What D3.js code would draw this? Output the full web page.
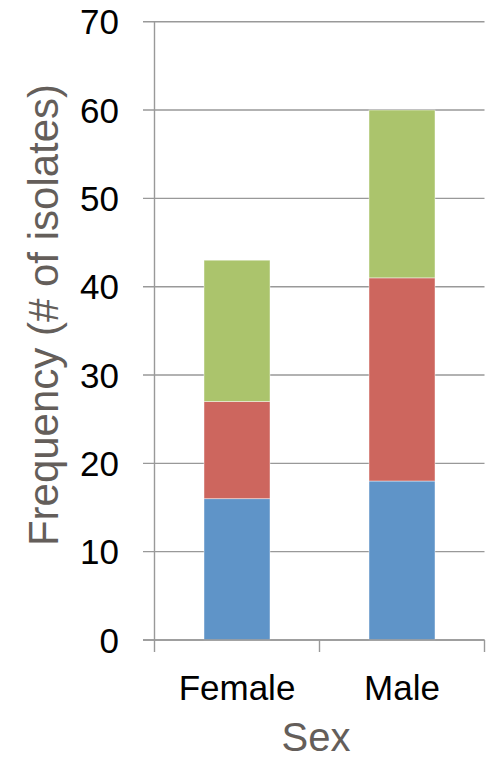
<!DOCTYPE html>
<html>
<head>
<meta charset="utf-8">
<script src="https://cdn.jsdelivr.net/npm/d3@7"></script>
<style>
  html, body { margin: 0; padding: 0; background: #fff; }
  svg { display: block; font-family: "Liberation Sans", Arial, sans-serif; }
</style>
</head>
<body>
<svg id="chart" width="487" height="760"></svg>
<script>
// Isolate counts by sex, stacked in three groups (bottom to top)
const categories = ["Female", "Male"];
const groupBlue  = [16, 18];
const groupRed   = [11, 23];
const groupGreen = [16, 19];
const yTicks = [0, 10, 20, 30, 40, 50, 60, 70];

const seriesKeys = ["blue", "red", "green"];
const seriesColors = { blue: "#5f94c8", red: "#cd665e", green: "#abc46c" };

const rows = categories.map((c, i) => ({
  category: c,
  blue: groupBlue[i],
  red: groupRed[i],
  green: groupGreen[i]
}));

const svg = d3.select("#chart");
const plotTop = 21.7;
const plotBottom = 640;

const x = d3.scaleBand()
  .domain(categories)
  .range([154.5, 484.5])
  .paddingInner(0.6)
  .paddingOuter(0.3);

const y = d3.scaleLinear()
  .domain([0, 70])
  .range([plotBottom, plotTop]);

const gridColor = "#999999";

// Horizontal gridlines with short ticks left of the axis
svg.append("g")
  .selectAll("line")
  .data(yTicks)
  .join("line")
  .attr("x1", 143)
  .attr("x2", 484.5)
  .attr("y1", d => y(d))
  .attr("y2", d => y(d))
  .attr("stroke", gridColor)
  .attr("stroke-width", 1.4);

// Stacked bars
const stack = d3.stack().keys(seriesKeys);
const layers = stack(rows);

svg.append("g")
  .selectAll("g")
  .data(layers)
  .join("g")
  .attr("fill", d => seriesColors[d.key])
  .selectAll("rect")
  .data(d => d)
  .join("rect")
  .attr("x", d => x(d.data.category))
  .attr("width", x.bandwidth())
  .attr("y", d => y(d[1]))
  .attr("height", d => y(d[0]) - y(d[1]))
  .attr("stroke", "#ffffff")
  .attr("stroke-opacity", 0.55)
  .attr("stroke-width", 0.8);

// Vertical axis line
svg.append("line")
  .attr("x1", 154.5).attr("x2", 154.5)
  .attr("y1", y(70)).attr("y2", plotBottom)
  .attr("stroke", gridColor)
  .attr("stroke-width", 1.4);

// Horizontal axis with category boundary ticks
const xAxisLine = svg.append("g");
xAxisLine.append("line")
  .attr("x1", 143).attr("x2", 484.5)
  .attr("y1", plotBottom).attr("y2", plotBottom)
  .attr("stroke", gridColor)
  .attr("stroke-width", 1.4);

const step = x.step();
const boundaries = [154.5].concat(categories.map(c => x(c) - x.paddingInner() * step / 2 + step));
xAxisLine.selectAll("line.tick")
  .data(boundaries)
  .join("line")
  .attr("class", "tick")
  .attr("x1", d => d).attr("x2", d => d)
  .attr("y1", plotBottom).attr("y2", plotBottom + 12)
  .attr("stroke", gridColor)
  .attr("stroke-width", 1.4);

// Y tick labels
svg.append("g")
  .selectAll("text")
  .data(yTicks)
  .join("text")
  .attr("x", 119)
  .attr("y", d => y(d) + 12.5)
  .attr("text-anchor", "end")
  .attr("font-size", 35)
  .attr("fill", "#000")
  .text(d => d);

// Category labels
svg.append("g")
  .selectAll("text")
  .data(categories)
  .join("text")
  .attr("x", d => x(d) + x.bandwidth() / 2)
  .attr("y", 700)
  .attr("text-anchor", "middle")
  .attr("font-size", 35)
  .attr("fill", "#000")
  .text(d => d);

// Axis titles
svg.append("text")
  .attr("x", 316)
  .attr("y", 751)
  .attr("text-anchor", "middle")
  .attr("font-size", 40)
  .attr("fill", "#645e5a")
  .text("Sex");

svg.append("text")
  .attr("transform", "translate(58,315) rotate(-90)")
  .attr("text-anchor", "middle")
  .attr("font-size", 42)
  .attr("fill", "#645e5a")
  .text("Frequency (# of isolates)");
</script>
</body>
</html>
